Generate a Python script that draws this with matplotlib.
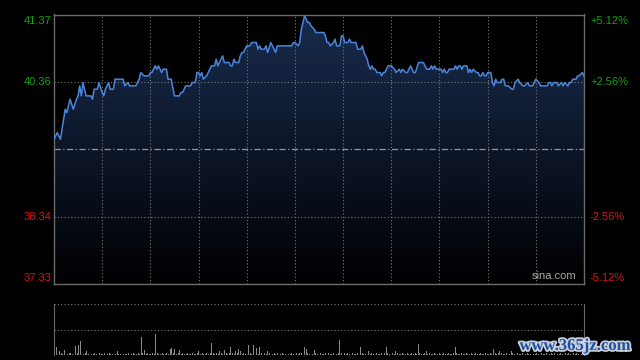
import numpy as np
import matplotlib.pyplot as plt
import matplotlib.patheffects as pe
from matplotlib.colors import LinearSegmentedColormap

plt.rcParams['font.family'] = ['Liberation Sans', 'DejaVu Sans']

# price axis (HK session, 330 trading minutes)
y_lo, y_hi = 37.33, 41.37
prev_close = 39.355
left_labels = ['41.37', '40.36', '38.34', '37.33']
left_values = [41.37, 40.36, 38.34, 37.33]
right_labels = ['+5.12%', '+2.56%', '-2.56%', '-5.12%']

minutes = [0, 2, 4, 6, 7, 8, 10, 12, 14, 15, 16, 17, 18, 20, 23, 24, 25, 27, 28, 30,
           31, 32, 34, 35, 37, 38, 43, 44, 46, 47, 51, 53, 54, 56, 59, 60, 61, 63, 64, 65,
           67, 68, 70, 71, 73, 75, 77, 78, 79, 80, 82, 85, 86, 88, 89, 90, 91, 92, 93, 95,
           96, 98, 100, 101, 102, 103, 104, 105, 106, 109, 110, 111, 112, 113, 115, 116, 117, 118, 120, 122,
           123, 126, 127, 128, 129, 131, 132, 133, 135, 138, 139, 148, 149, 150, 152, 153, 154, 155, 156, 157,
           158, 159, 160, 162, 163, 166, 168, 169, 170, 171, 172, 174, 175, 176, 178, 179, 180, 181, 183, 184,
           185, 188, 189, 191, 192, 193, 195, 196, 197, 198, 199, 200, 201, 203, 204, 205, 206, 208, 210, 212,
           213, 215, 216, 217, 219, 220, 222, 223, 224, 225, 227, 230, 231, 232, 234, 235, 236, 237, 238, 241,
           242, 243, 244, 245, 246, 248, 249, 250, 251, 252, 253, 254, 255, 257, 258, 259, 260, 261, 263, 264,
           265, 266, 267, 268, 269, 270, 272, 273, 274, 275, 276, 278, 279, 280, 281, 283, 285, 286, 287, 289,
           290, 292, 293, 295, 296, 298, 299, 300, 302, 303, 307, 308, 309, 310, 311, 313, 314, 316, 317, 318,
           320, 321, 322, 323, 325, 326, 327, 329, 330]
prices = [39.50, 39.60, 39.50, 39.80, 39.95, 39.90, 40.10, 39.95, 40.10, 40.15, 40.30, 40.15, 40.35, 40.15, 40.15, 40.10, 40.25, 40.25, 40.35, 40.20,
          40.15, 40.25, 40.35, 40.25, 40.25, 40.40, 40.40, 40.30, 40.35, 40.30, 40.30, 40.40, 40.50, 40.45, 40.45, 40.50, 40.50, 40.60, 40.55, 40.60,
          40.50, 40.55, 40.55, 40.40, 40.40, 40.15, 40.15, 40.15, 40.20, 40.20, 40.30, 40.30, 40.35, 40.35, 40.50, 40.50, 40.45, 40.50, 40.40, 40.45,
          40.50, 40.60, 40.60, 40.70, 40.60, 40.65, 40.70, 40.75, 40.65, 40.65, 40.60, 40.60, 40.70, 40.65, 40.65, 40.75, 40.80, 40.80, 40.90, 40.90,
          40.95, 40.95, 40.85, 40.90, 40.85, 40.85, 40.90, 40.80, 40.95, 40.80, 40.90, 40.90, 40.95, 40.95, 40.90, 40.95, 41.15, 41.25, 41.35, 41.30,
          41.25, 41.25, 41.20, 41.15, 41.10, 41.10, 41.10, 41.05, 40.95, 40.95, 40.90, 40.95, 41.00, 40.90, 40.90, 41.05, 41.05, 40.95, 40.95, 41.00,
          40.95, 40.95, 40.85, 40.85, 40.90, 40.80, 40.70, 40.60, 40.55, 40.60, 40.55, 40.55, 40.50, 40.50, 40.45, 40.50, 40.50, 40.60, 40.60, 40.55,
          40.50, 40.55, 40.50, 40.55, 40.50, 40.50, 40.60, 40.55, 40.50, 40.50, 40.65, 40.65, 40.60, 40.55, 40.55, 40.60, 40.55, 40.60, 40.55, 40.55,
          40.50, 40.55, 40.50, 40.50, 40.55, 40.55, 40.55, 40.60, 40.55, 40.60, 40.60, 40.55, 40.60, 40.60, 40.50, 40.55, 40.50, 40.55, 40.50, 40.50,
          40.45, 40.45, 40.50, 40.45, 40.45, 40.50, 40.50, 40.35, 40.30, 40.40, 40.35, 40.35, 40.40, 40.40, 40.30, 40.30, 40.25, 40.25, 40.35, 40.40,
          40.35, 40.30, 40.30, 40.35, 40.30, 40.30, 40.35, 40.40, 40.35, 40.30, 40.30, 40.35, 40.35, 40.30, 40.35, 40.35, 40.30, 40.35, 40.30, 40.35,
          40.30, 40.35, 40.35, 40.40, 40.40, 40.45, 40.45, 40.50, 40.45]

# per-minute volume (panel scale 0-100)
volume = [6, 15, 4, 8, 3, 2, 10, 3, 2, 4, 3, 2, 3, 17, 4, 19, 27, 3, 2, 3, 7, 2, 3, 2, 2, 3, 2, 2, 3, 2,
          2, 3, 2, 2, 3, 2, 2, 3, 2, 8, 2, 2, 3, 2, 2, 2, 3, 2, 2, 3, 2, 2, 3, 2, 35, 3, 10, 2, 3, 2,
          2, 3, 2, 42, 3, 2, 2, 3, 2, 2, 3, 2, 12, 14, 3, 12, 2, 3, 10, 2, 3, 2, 2, 3, 2, 2, 3, 2, 2, 3,
          8, 2, 3, 2, 2, 3, 2, 3, 23, 3, 2, 3, 2, 8, 3, 2, 10, 3, 2, 3, 15, 3, 2, 8, 3, 11, 7, 2, 3, 2,
          29, 19, 3, 2, 19, 3, 14, 2, 16, 3, 2, 3, 2, 8, 3, 2, 2, 3, 2, 3, 2, 2, 3, 2, 2, 3, 2, 2, 3, 2,
          8, 3, 2, 3, 4, 56, 15, 11, 3, 2, 3, 2, 10, 3, 2, 2, 3, 2, 2, 3, 2, 3, 2, 2, 3, 2, 2, 3, 29, 3,
          12, 3, 2, 3, 2, 8, 3, 2, 2, 3, 2, 16, 3, 2, 2, 3, 8, 2, 3, 2, 2, 3, 2, 2, 3, 2, 3, 15, 3, 2,
          2, 3, 2, 8, 3, 2, 2, 3, 2, 2, 3, 2, 2, 3, 2, 3, 2, 22, 3, 2, 2, 3, 8, 2, 3, 2, 2, 3, 2, 2,
          3, 2, 2, 3, 2, 2, 3, 2, 2, 3, 15, 3, 2, 2, 3, 2, 2, 3, 2, 2, 3, 2, 2, 3, 2, 2, 3, 2, 2, 3,
          2, 2, 3, 2, 11, 3, 2, 3, 8, 3, 2, 2, 3, 2, 2, 7, 3, 2, 2, 3, 2, 2, 3, 2, 2, 3, 2, 2, 3, 2,
          2, 3, 2, 2, 3, 2, 2, 3, 2, 2, 3, 2, 4, 3, 2, 2, 3, 2, 2, 3, 2, 3, 2, 2, 3, 2, 3, 2, 3, 2,
          3]

green = '#13a313'
red = '#e0120f'
grid_c = '#7a7a7a'
frame_c = '#6a6a6a'

fig = plt.figure(figsize=(6.4, 3.6), dpi=100, facecolor='black')

# price panel
ax = fig.add_axes([54 / 640, 1 - 284 / 360, 530 / 640, 269.5 / 360])
ax.set_facecolor('black')
ax.set_xlim(0, 330)
ax.set_ylim(y_lo, y_hi)

cmap = LinearSegmentedColormap.from_list('fill', ['#000000', '#0d1628', '#182c4e'])
grad = np.linspace(0, 1, 256).reshape(-1, 1)
poly = ax.fill_between(minutes, prices, y_lo, color='none', lw=0)
img = ax.imshow(grad, cmap=cmap, aspect='auto', origin='lower',
                extent=(0, 330, y_lo, max(prices)), zorder=1)
img.set_clip_path(poly.get_paths()[0], transform=ax.transData)

for m in range(30, 330, 30):
    ax.axvline(m, color=grid_c, lw=0.8, ls=(0, (1, 2)), zorder=2)
for v in [40.36, 38.34]:
    ax.axhline(v, color=grid_c, lw=0.8, ls=(0, (1, 2)), zorder=2)
ax.axhline(prev_close, color='#8e96a4', lw=0.9, ls=(0, (5, 2, 1, 2)), zorder=2)

ax.plot(minutes, prices, color='#4a86dc', lw=1.1, zorder=3)

for s in ax.spines.values():
    s.set_color(frame_c)
    s.set_linewidth(1)
ax.set_xticks([])
ax.set_yticks([])

vas = ['top', 'center', 'center', 'bottom']
cols = [green, green, red, red]
for lab, rl, v, va, c in zip(left_labels, right_labels, left_values, vas, cols):
    off = -0.02 if va == 'top' else (0.02 if va == 'bottom' else 0)
    ax.text(-3 / 530 * 330, v + off, lab, ha='right', va=va, color=c, fontsize=8)
    ax.text(330 + 6 / 530 * 330, v + off, rl, ha='left', va=va, color=c, fontsize=8)

ax.text(0.985, 0.012, 'sina.com', transform=ax.transAxes, ha='right', va='bottom',
        color='#a8a8a8', fontsize=8, zorder=4)

# volume panel
axv = fig.add_axes([54 / 640, 1 - 355 / 360, 530 / 640, 51 / 360])
axv.set_facecolor('black')
axv.set_xlim(-0.5, 330.5)
axv.set_ylim(0, 100)
axv.bar(range(len(volume)), volume, width=0.55, color='#8a8a8a', lw=0)
axv.axhline(50, color=grid_c, lw=0.8, ls=(0, (1, 2)))
axv.axhline(100, color=grid_c, lw=0.8, ls=(0, (1, 2)), clip_on=False)
axv.spines['top'].set_visible(False)
axv.spines['bottom'].set_visible(False)
axv.spines['left'].set_color(frame_c)
axv.spines['right'].set_color(frame_c)
axv.set_xticks([])
axv.set_yticks([])

fig.text(575 / 640, 1 - 346 / 360, 'www.365jz.com', ha='center', va='center',
         color='#1f4f9e', fontsize=12, fontweight='bold', family='Liberation Serif',
         path_effects=[pe.withStroke(linewidth=2.5, foreground='#c9d1de')])

fig.savefig('out.png', dpi=100, facecolor='black')
